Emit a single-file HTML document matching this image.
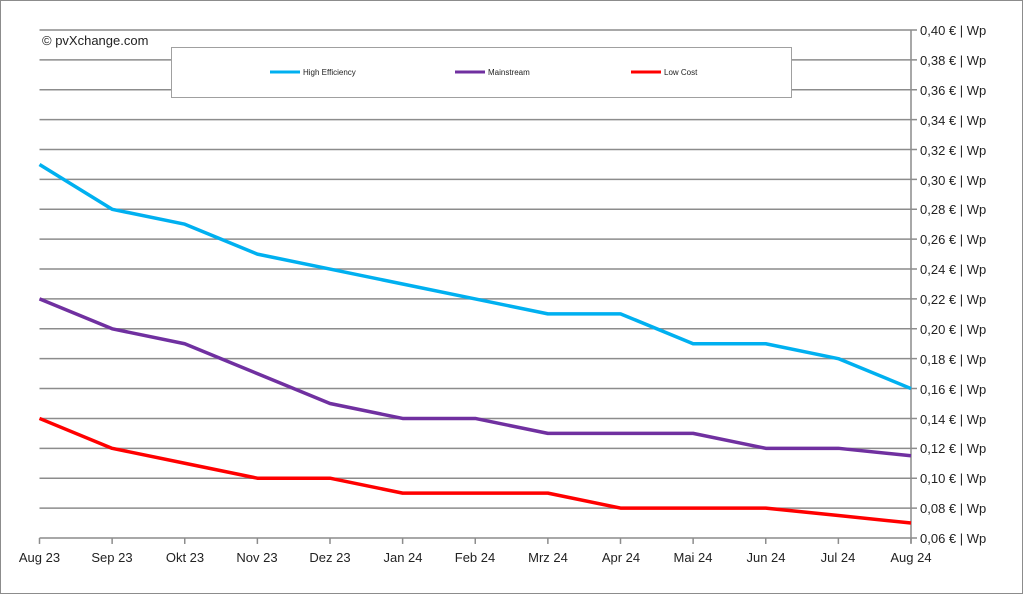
<!DOCTYPE html>
<html><head><meta charset="utf-8"><style>
html,body{margin:0;padding:0;background:#fff}
svg{display:block;font-family:"Liberation Sans",sans-serif}
</style></head><body>
<svg id="s" width="1024" height="595" viewBox="0 0 1024 595" xmlns="http://www.w3.org/2000/svg">
<rect x="0.5" y="0.5" width="1022" height="593" fill="#fff" stroke="#8c8c8c" stroke-width="1"/>
<g id="grid"></g>
<rect x="171.5" y="47.5" width="620" height="50" fill="#fff" stroke="#a0a0a0" stroke-width="1"/>
<line x1="270" y1="72" x2="300" y2="72" stroke="#00b0f0" stroke-width="3"/>
<text x="303" y="75" font-size="8" fill="#222">High Efficiency</text>
<line x1="455" y1="72" x2="485" y2="72" stroke="#7030a0" stroke-width="3"/>
<text x="488" y="75" font-size="8" fill="#222">Mainstream</text>
<line x1="631" y1="72" x2="661" y2="72" stroke="#ff0000" stroke-width="3"/>
<text x="664" y="75" font-size="8" fill="#222">Low Cost</text>
<text x="42" y="45" font-size="13" fill="#222">© pvXchange.com</text>
<g id="lines"></g>
<g font-size="13" fill="#222">
<text x="920" y="35">0,40 € | Wp</text><text x="920" y="65">0,38 € | Wp</text><text x="920" y="95">0,36 € | Wp</text><text x="920" y="125">0,34 € | Wp</text><text x="920" y="155">0,32 € | Wp</text><text x="920" y="185">0,30 € | Wp</text><text x="920" y="214">0,28 € | Wp</text><text x="920" y="244">0,26 € | Wp</text><text x="920" y="274">0,24 € | Wp</text><text x="920" y="304">0,22 € | Wp</text><text x="920" y="334">0,20 € | Wp</text><text x="920" y="364">0,18 € | Wp</text><text x="920" y="394">0,16 € | Wp</text><text x="920" y="424">0,14 € | Wp</text><text x="920" y="453">0,12 € | Wp</text><text x="920" y="483">0,10 € | Wp</text><text x="920" y="513">0,08 € | Wp</text><text x="920" y="543">0,06 € | Wp</text>
</g>
<g font-size="13" fill="#222" text-anchor="middle">
<text x="39.5" y="562">Aug 23</text><text x="112" y="562">Sep 23</text><text x="185" y="562">Okt 23</text><text x="257" y="562">Nov 23</text><text x="330" y="562">Dez 23</text><text x="403" y="562">Jan 24</text><text x="475" y="562">Feb 24</text><text x="548" y="562">Mrz 24</text><text x="621" y="562">Apr 24</text><text x="693" y="562">Mai 24</text><text x="766" y="562">Jun 24</text><text x="838" y="562">Jul 24</text><text x="911" y="562">Aug 24</text>
</g>
</svg>
<script>
var NS="http://www.w3.org/2000/svg",x0=39.5,x1=911,dx=(x1-x0)/12;
function Y(v){return 30+(0.40-v)*1494;}
function el(t,a,p){var e=document.createElementNS(NS,t);for(var k in a)e.setAttribute(k,a[k]);p.appendChild(e);}
var g=document.getElementById("grid");
for(var i=0;i<=17;i++){var y=Y(0.40-i*0.02);el("line",{x1:x0,x2:x1+6,y1:y,y2:y,stroke:"#8c8c8c","stroke-width":1.5},g);}
el("line",{x1:x1,x2:x1,y1:Y(0.40),y2:Y(0.06)+5,stroke:"#8c8c8c","stroke-width":1.5},g);
for(var i=0;i<=12;i++){var x=x0+i*dx;el("line",{x1:x,x2:x,y1:Y(0.06),y2:Y(0.06)+6,stroke:"#8c8c8c","stroke-width":1.5},g);}
var d=[["#00b0f0",[.31,.28,.27,.25,.24,.23,.22,.21,.21,.19,.19,.18,.16]],
["#7030a0",[.22,.20,.19,.17,.15,.14,.14,.13,.13,.13,.12,.12,.115]],
["#ff0000",[.14,.12,.11,.10,.10,.09,.09,.09,.08,.08,.08,.075,.07]]];
var L=document.getElementById("lines");
d.forEach(function(s){var p=s[1].map(function(v,i){return (x0+i*dx)+","+Y(v)}).join(" ");
el("polyline",{points:p,fill:"none",stroke:s[0],"stroke-width":3.5,"stroke-linejoin":"round"},L);});
</script>
</body></html>
